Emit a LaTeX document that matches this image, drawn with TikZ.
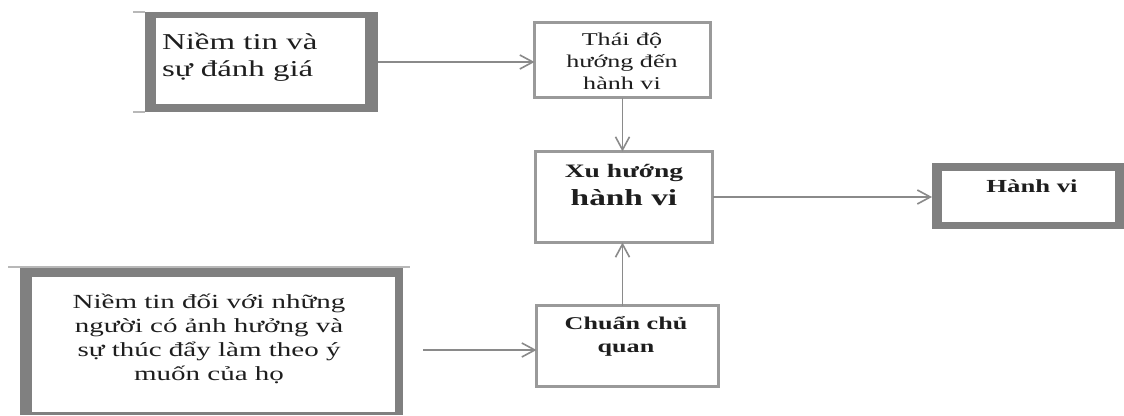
\documentclass[tikz,border=0pt]{standalone}
\usepackage{fontspec}
\newfontfamily\tf[FakeStretch=1.45]{Liberation Serif}
\usetikzlibrary{arrows.meta,calc}
\definecolor{thickgray}{HTML}{808080}
\definecolor{thingray}{HTML}{9A9A9A}
\definecolor{arrowgray}{HTML}{8A8A8A}
\definecolor{ink}{HTML}{1E1E1E}
\begin{document}
\begin{tikzpicture}[x=1pt,y=-1pt,
  every node/.style={inner sep=0pt,outer sep=0pt},
  thickbox/.style n args={4}{fill=thickgray,
    path picture={\fill[white] ($(path picture bounding box.south west)+(#1,-#4)$) rectangle ($(path picture bounding box.north east)+(-#3,#2)$);}},
  thinbox/.style={draw=thingray,line width=3pt,fill=white},
  txt/.style={text=ink,font=\tf},
  conn/.style={draw=arrowgray,line width=1.8pt,-{Straight Barb[length=13pt,width=14pt,line width=1.6pt]}},
  faint/.style={draw=thingray!70,line width=1.5pt}
]
\useasboundingbox[fill=white] (0,0) rectangle (1124,415);
% boxes
\node[thickbox={11}{6}{13}{8},minimum width=233,minimum height=100,anchor=north west] (b1) at (145,12) {};
\node[thinbox,minimum width=176,minimum height=75,anchor=north west] (b2) at (534.5,22.5) {};
\node[thinbox,minimum width=177,minimum height=91,anchor=north west] (b3) at (535.5,151.5) {};
\node[thickbox={10}{8}{9}{7},minimum width=192,minimum height=66,anchor=north west] (b4) at (932,163) {};
\node[thickbox={12}{9}{8}{3},minimum width=383,minimum height=147,anchor=north west] (b5) at (20,268) {};
\node[thinbox,minimum width=182,minimum height=81,anchor=north west] (b6) at (536.5,305.5) {};
% faint edge lines
\draw[faint] (133,12) -- (b1.north west);
\draw[faint] (133,112) -- (b1.south west);
\draw[faint] (8,267) -- (410,267);
% texts
\node[txt,font=\tf\fontsize{22.7}{27}\selectfont,align=left,anchor=west] (t1) at (162,57) {Niềm tin và\\sự đánh giá};
\node[txt,font=\tf\fontsize{18}{22}\selectfont,align=center] (t2) at (622,61) {Thái độ\\hướng đến\\hành vi};
\node[txt,font=\tf\fontsize{19}{28}\selectfont\bfseries,align=center] (t3) at (624,185) {Xu hướng\\{\fontsize{23}{28}\selectfont hành vi}};
\node[txt,font=\tf\fontsize{18.4}{22}\selectfont\bfseries] (t4) at (1032,186) {Hành vi};
\node[txt,font=\tf\fontsize{20}{24}\selectfont,align=center] (t5) at (209,339) {Niềm tin đối với những\\người có ảnh hưởng và\\sự thúc đẩy làm theo ý\\muốn của họ};
\node[txt,font=\tf\fontsize{18}{23}\selectfont\bfseries,align=center] (t6) at (626,336) {Chuẩn chủ\\quan};
% connectors
\coordinate (s5) at (423,350);
\draw[conn] (b1.east) -- (b1.east -| b2.west);
\draw[conn] (b2.south) -- (b2.south |- b3.north);
\draw[conn] (b3.east) -- (b3.east -| b4.west);
\draw[conn] (s5) -- (s5 -| b6.west);
\draw[conn] (b6.north -| b2.south) -- (b3.south -| b2.south);
\end{tikzpicture}
\end{document}
